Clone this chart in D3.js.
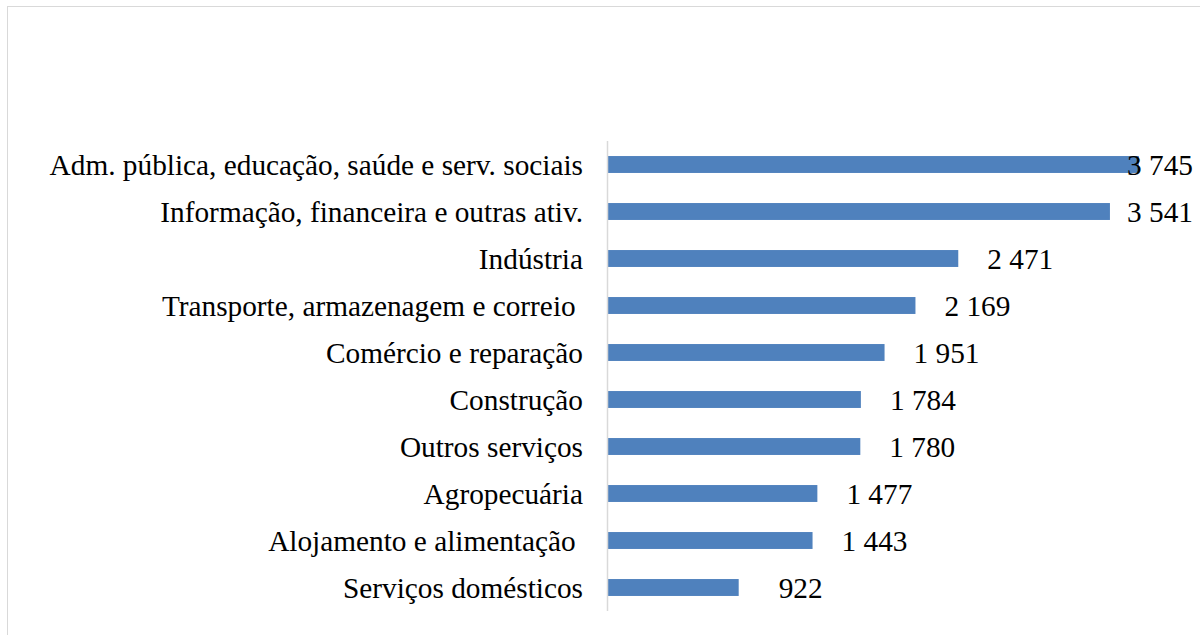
<!DOCTYPE html>
<html><head><meta charset="utf-8">
<script src="https://cdn.jsdelivr.net/npm/d3@7"></script>
<style>html,body{margin:0;padding:0;background:#fff;overflow:hidden} text{font-family:"Liberation Serif",serif}</style>
</head><body>
<svg id="c" width="1200" height="635"></svg>
<script>
const categories = [
  "Adm. pública, educação, saúde e serv. sociais",
  "Informação, financeira e outras ativ.",
  "Indústria",
  "Transporte, armazenagem e correio ",
  "Comércio e reparação",
  "Construção",
  "Outros serviços",
  "Agropecuária",
  "Alojamento e alimentação ",
  "Serviços domésticos"
];
const values = [3745, 3541, 2471, 2169, 1951, 1784, 1780, 1477, 1443, 922];
const valueLabels = ["3 745","3 541","2 471","2 169","1 951","1 784","1 780","1 477","1 443","922"];

const svg = d3.select("#c");
const fs = 29.3;

svg.append("rect").attr("x",7.5).attr("y",6.5).attr("width",1300).attr("height",700)
  .attr("fill","#fff").attr("stroke","#d9d9d9").attr("stroke-width",1);

const x = d3.scaleLinear().domain([0,4000]).range([608,1175]);
const y = d3.scaleBand().domain(categories).range([141,611]).paddingInner(0.64).paddingOuter(0.32);

svg.append("g").selectAll("rect").data(values).join("rect")
  .attr("x", x(0)).attr("y", (d,i)=>y(categories[i]))
  .attr("width", d=>x(d)-x(0)).attr("height", y.bandwidth())
  .attr("fill","#4f81bd");

svg.append("line").attr("x1",607.5).attr("x2",607.5).attr("y1",141).attr("y2",611)
  .attr("stroke","#d9d9d9").attr("stroke-width",1.5);

svg.append("g").selectAll("text").data(categories).join("text")
  .attr("x",583).attr("y",d=>y(d)+y.bandwidth()/2).attr("dy","0.35em")
  .attr("text-anchor","end").attr("font-size",fs).attr("fill","#000")
  .style("white-space","pre")
  .text(d=>d);

svg.append("g").selectAll("text").data(values).join("text")
  .attr("x",d=>Math.min(x(d)+62,1160)).attr("y",(d,i)=>y(categories[i])+y.bandwidth()/2).attr("dy","0.35em")
  .attr("text-anchor","middle").attr("font-size",fs).attr("fill","#000")
  .text((d,i)=>valueLabels[i]);
</script>
</body></html>
